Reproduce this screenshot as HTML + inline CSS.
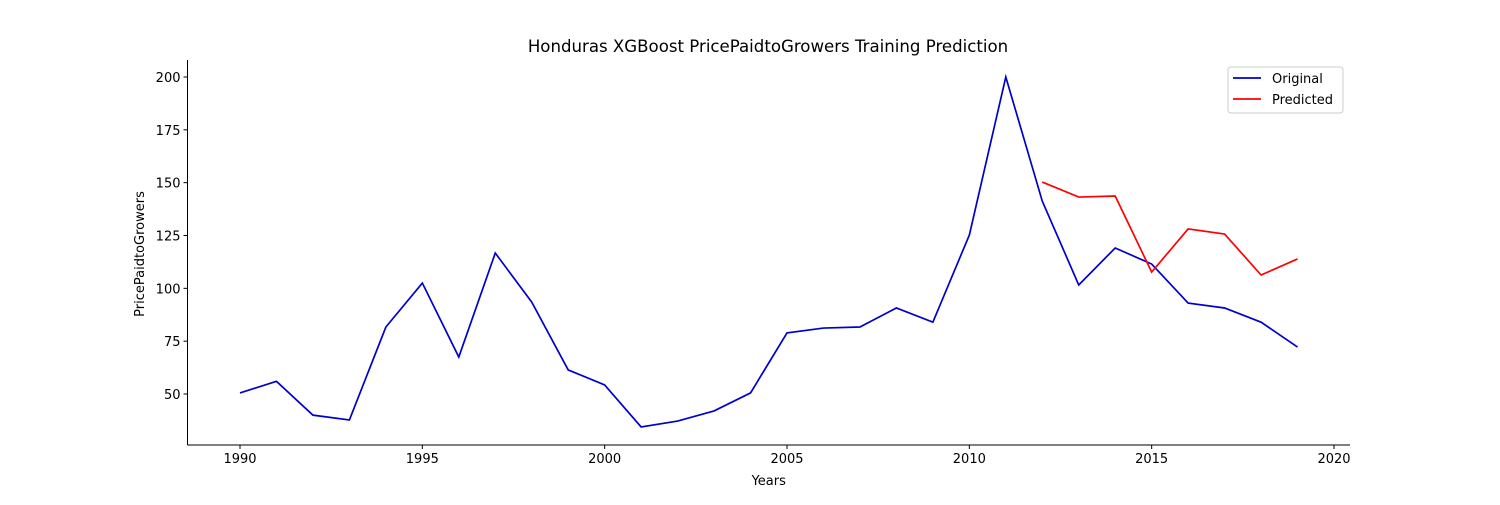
<!DOCTYPE html>
<html><head><meta charset="utf-8"><style>
body{margin:0;background:#fff;}
svg text{font-family:"DejaVu Sans","Liberation Sans",sans-serif;fill:#000;}
</style></head><body>
<svg id="chart" width="1500" height="500" xmlns="http://www.w3.org/2000/svg">
<text x="768" y="52" font-size="16.6" text-anchor="middle">Honduras XGBoost PricePaidtoGrowers Training Prediction</text>
<g id="axes"></g>
</svg>
<script>
const origYears=[1990,1991,1992,1993,1994,1995,1996,1997,1998,1999,2000,2001,2002,2003,2004,2005,2006,2007,2008,2009,2010,2011,2012,2013,2014,2015,2016,2017,2018,2019];
const origValues=[50.5,56,40,37.7,81.7,102.5,67.5,116.7,93.5,61.4,54.3,34.4,37.2,42,50.5,78.9,81.2,81.7,90.7,84,125.2,200,141.3,101.6,119.1,111.5,93,90.7,84,72.2];
const predYears=[2012,2013,2014,2015,2016,2017,2018,2019];
const predValues=[150.3,143.2,143.7,107.7,128.1,125.7,106.3,113.9];
const xTicks=[1990,1995,2000,2005,2010,2015,2020];
const yTicks=[50,75,100,125,150,175,200];

const NS="http://www.w3.org/2000/svg";
const g=document.getElementById('axes');
const L=187.5,R=1350,T=60,B=445;
const xs=v=>240+(v-1990)*(1334-240)/30;
const ys=v=>394-(v-50)*(394-77)/150;
function mk(tag,attrs,parent){const e=document.createElementNS(NS,tag);for(const k in attrs)e.setAttribute(k,attrs[k]);(parent||g).appendChild(e);return e;}

const sl=mk('line',{x1:L,y1:T,x2:L,y2:B,stroke:'#000','stroke-width':1});


const sb=mk('line',{x1:L,y1:B,x2:R,y2:B,stroke:'#000','stroke-width':1});



xTicks.forEach(t=>{
  const x=xs(t);
  const tk=mk('line',{x1:x,y1:B,x2:x,y2:B+4,stroke:'#000'});
  
  
  const tx=mk('text',{x:x,y:B+18,'font-size':13,'text-anchor':'middle'});
  tx.textContent=t;
  
  
});
yTicks.forEach(t=>{
  const y=ys(t);
  const tk=mk('line',{x1:L-4,y1:y,x2:L,y2:y,stroke:'#000'});
  
  
  const tx=mk('text',{x:L-7,y:y+5,'font-size':13,'text-anchor':'end'});
  tx.textContent=t;
  
  
});
const xl=mk('text',{x:768.75,y:485,'font-size':13,'text-anchor':'middle'});
xl.textContent='Years';


const yl=mk('text',{x:144,y:254,'font-size':13,'text-anchor':'middle',transform:'rotate(-90 144 254)'});
yl.textContent='PricePaidtoGrowers';



const p1=mk('polyline',{points:origYears.map((y,i)=>xs(y)+','+ys(origValues[i])).join(' '),fill:'none',stroke:'#0000cd','stroke-width':1.7});


const p2=mk('polyline',{points:predYears.map((y,i)=>xs(y)+','+ys(predValues[i])).join(' '),fill:'none',stroke:'#ff0000','stroke-width':1.7});



const lg=mk('g',{});


mk('rect',{x:1228,y:67,width:115,height:46,rx:3,fill:'#fff',stroke:'#ccc'},lg);
const e1=mk('g',{},lg);


mk('line',{x1:1233,y1:78,x2:1261,y2:78,stroke:'#0000cd','stroke-width':1.7},e1);
const t1=mk('text',{x:1272,y:83,'font-size':13},e1);t1.textContent='Original';
const e2=mk('g',{},lg);


mk('line',{x1:1233,y1:99,x2:1261,y2:99,stroke:'#ff0000','stroke-width':1.7},e2);
const t2=mk('text',{x:1272,y:104,'font-size':13},e2);t2.textContent='Predicted';
</script>
</body></html>
